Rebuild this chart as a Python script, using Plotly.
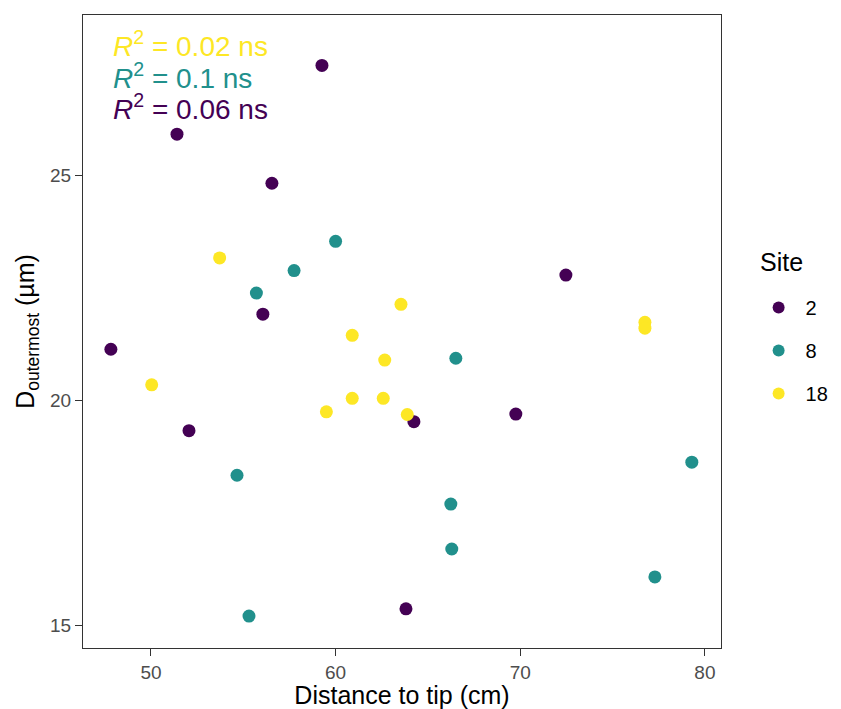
import plotly.graph_objects as go

sites = ["2", "8", "18"]
colors = ["#440154", "#21908C", "#FDE725"]

x_site2 = [59.26, 51.41, 56.55, 72.47, 56.06, 47.83, 52.06, 64.24, 69.76, 63.81]
y_site2 = [27.44, 25.91, 24.82, 22.78, 21.91, 21.13, 19.32, 19.52, 19.69, 15.36]

x_site8 = [60.0, 57.75, 55.71, 66.51, 54.66, 66.24, 66.29, 79.29, 77.29, 55.31]
y_site8 = [23.53, 22.88, 22.38, 20.93, 18.33, 17.69, 16.69, 18.62, 16.07, 15.20]

x_site18 = [53.72, 63.54, 60.90, 76.75, 76.75, 62.66, 50.04, 59.50, 60.90, 62.58, 63.88]
y_site18 = [23.16, 22.13, 21.44, 21.73, 21.60, 20.89, 20.34, 19.74, 20.04, 20.04, 19.68]

r2_labels = ["0.02 ns", "0.1 ns", "0.06 ns"]
r2_colors = ["#FDE725", "#21908C", "#440154"]

xs = [x_site2, x_site8, x_site18]
ys = [y_site2, y_site8, y_site18]

FONT = "Liberation Sans, Arial, sans-serif"

fig = go.Figure()
for i, s in enumerate(sites):
    fig.add_trace(go.Scatter(
        x=xs[i], y=ys[i], mode="markers", name=s, legendgroup=s,
        marker=dict(color=colors[i], size=13, line=dict(width=0)),
    ))

# panel spans 15..648 px vertically (633 px), 83..721 horizontally (638 px)
for i, (lab, col) in enumerate(zip(r2_labels, r2_colors)):
    ypx = 44 + i * 31.5
    fig.add_annotation(
        x=0.044, xref="paper", y=(648 - ypx) / 633, yref="paper",
        xanchor="left", yanchor="middle", showarrow=False,
        text=f"<i>R</i><sup>2</sup> = {lab}",
        font=dict(size=28, color=col, family=FONT),
    )

# legend title
fig.add_annotation(
    x=(758 - 83) / 638, xref="paper", y=(648 - 262) / 633, yref="paper",
    xanchor="left", yanchor="middle", showarrow=False,
    text="Site", font=dict(size=25, color="black", family=FONT),
)

axis_common = dict(
    showgrid=False, zeroline=False, showline=True, linecolor="#333333", linewidth=1,
    mirror=True, ticks="outside", ticklen=7, tickcolor="#333333", tickwidth=1,
    tickfont=dict(size=19, color="#4D4D4D"),
)

fig.update_layout(
    width=833, height=701,
    margin=dict(l=75, r=120, t=7, b=61, autoexpand=False),
    plot_bgcolor="white", paper_bgcolor="white",
    font=dict(family=FONT, color="black"),
    xaxis=dict(range=[46.32, 80.87], tickvals=[50, 60, 70, 80],
               title=dict(text="Distance to tip (cm)", font=dict(size=25), standoff=4),
               **axis_common),
    yaxis=dict(range=[14.49, 28.56], tickvals=[15, 20, 25],
               title=dict(text="D<sub>outermost</sub> (µm)", font=dict(size=25), standoff=8),
               **axis_common),
    legend=dict(
        font=dict(size=20), x=1.048, xanchor="left", y=(648 - 288) / 633, yanchor="top",
        tracegroupgap=14, itemsizing="constant", itemwidth=44,
    ),
)

fig.write_html("out.html")
